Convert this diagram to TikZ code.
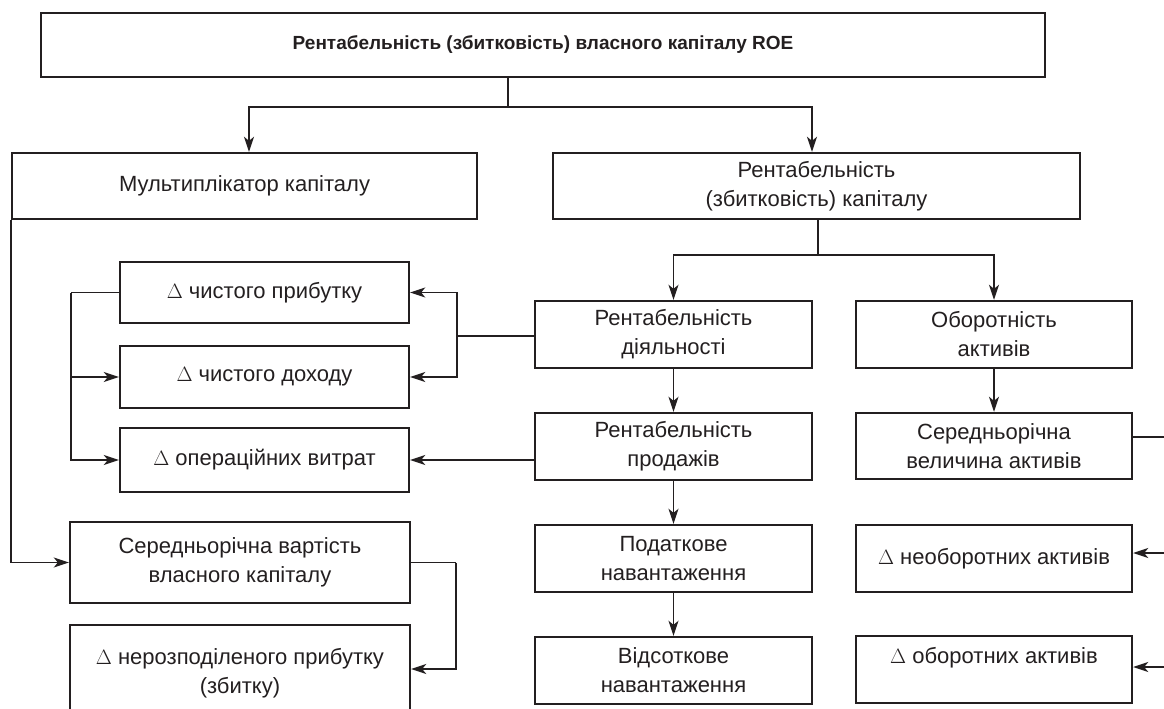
\documentclass[tikz,border=0pt]{standalone}
\usepackage{fontspec}
\setmainfont{Liberation Sans}
\usetikzlibrary{arrows.meta}
\definecolor{ink}{RGB}{35,31,32}
\tikzset{
  box/.style={draw=ink, text=ink, line width=2.4pt, inner sep=0pt, align=center,
    font=\fontsize{22}{29}\selectfont},
  conn/.style={draw=ink, line width=1.6pt},
  arr/.style={conn, -{Stealth[length=15pt,width=10pt,inset=4pt]}},
}
\begin{document}
\begin{tikzpicture}[x=1pt,y=-1pt]
\useasboundingbox[fill=white] (0,0) rectangle (1164,709);
% boxes
\node[box, minimum width=1004pt, minimum height=64pt, font=\bfseries\fontsize{19}{23}\selectfont] (top) at (543,45) {Рентабельність (збитковість) власного капіталу ROE};
\node[box, minimum width=465pt, minimum height=66pt] (mult) at (244.5,186) {Мультиплікатор капіталу};
\node[box, minimum width=527pt, minimum height=66pt] (rentkap) at (816.5,186) {Рентабельність\\(збитковість) капіталу};
\node[box, minimum width=277pt, minimum height=67pt] (rentd) at (673.5,334.5) {Рентабельність\\діяльності};
\node[box, minimum width=276pt, minimum height=67pt] (obor) at (994,334.5) {Оборотність\\активів};
\node[box, minimum width=277pt, minimum height=67pt] (rentp) at (673.5,446.5) {Рентабельність\\продажів};
\node[box, minimum width=276pt, minimum height=66pt] (sered) at (994,446) {Середньорічна\\величина активів};
\node[box, minimum width=277pt, minimum height=67pt] (pod) at (673.5,558.5) {Податкове\\навантаження};
\node[box, minimum width=276pt, minimum height=67pt] (dneob) at (994,558.5) {$\Delta$ необоротних активів};
\node[box, minimum width=277pt, minimum height=67pt] (vids) at (673.5,670.5) {Відсоткове\\навантаження};
\node[box, minimum width=276pt, minimum height=67pt] (dob) at (994,669.5) {$\Delta$ оборотних активів\\\mbox{}};
\node[box, minimum width=289pt, minimum height=61pt] (dchp) at (264.5,292.5) {$\Delta$ чистого прибутку};
\node[box, minimum width=289pt, minimum height=62pt] (dchd) at (264.5,377) {$\Delta$ чистого доходу};
\node[box, minimum width=289pt, minimum height=64pt] (dov) at (264.5,460) {$\Delta$ операційних витрат};
\node[box, minimum width=340pt, minimum height=81pt] (serv) at (240,562.5) {Середньорічна вартість\\власного капіталу};
\node[box, minimum width=340pt, minimum height=96pt] (dner) at (240,673) {$\Delta$ нерозподіленого прибутку\\(збитку)};
% connectors
\coordinate (j0) at (508,107);
\draw[conn] (508,0 |- top.south) -- (j0);
\draw[arr] (j0) -| (249,0 |- mult.north);
\draw[arr] (j0) -| (812,0 |- rentkap.north);
\coordinate (j1) at (818,255);
\draw[conn] (818,0 |- rentkap.south) -- (j1);
\draw[arr] (j1) -| (rentd.north);
\draw[arr] (j1) -| (obor.north);
\draw[arr] (rentd.south) -- (rentp.north);
\draw[arr] (rentp.south) -- (pod.north);
\draw[arr] (pod.south) -- (vids.north);
\draw[arr] (obor.south) -- (sered.north);
% left side
\coordinate (j2) at (457,336);
\draw[conn] (rentd.west |- j2) -- (j2);
\draw[arr] (j2) |- (dchp.east);
\draw[arr] (j2) |- (dchd.east);
\draw[arr] (rentp.west |- dov.east) -- (dov.east);
\coordinate (j3) at (71,292.5);
\draw[conn] (dchp.west) -- (j3);
\draw[arr] (j3) |- (dchd.west);
\draw[arr] (j3) |- (dov.west);
\draw[arr] (mult.south west) |- (serv.west);
\coordinate (j4) at (456,562.5);
\draw[conn] (serv.east) -- (j4);
\draw[arr] (j4) |- (dner.east |- 0,669);
% right side (runs past the page edge)
\coordinate (j5) at (1178,437);
\draw[conn] (sered.east |- j5) -- (j5);
\draw[arr] (j5) |- (dneob.east |- 0,553);
\draw[arr] (j5) |- (dob.east |- 0,667);
\end{tikzpicture}
\end{document}
